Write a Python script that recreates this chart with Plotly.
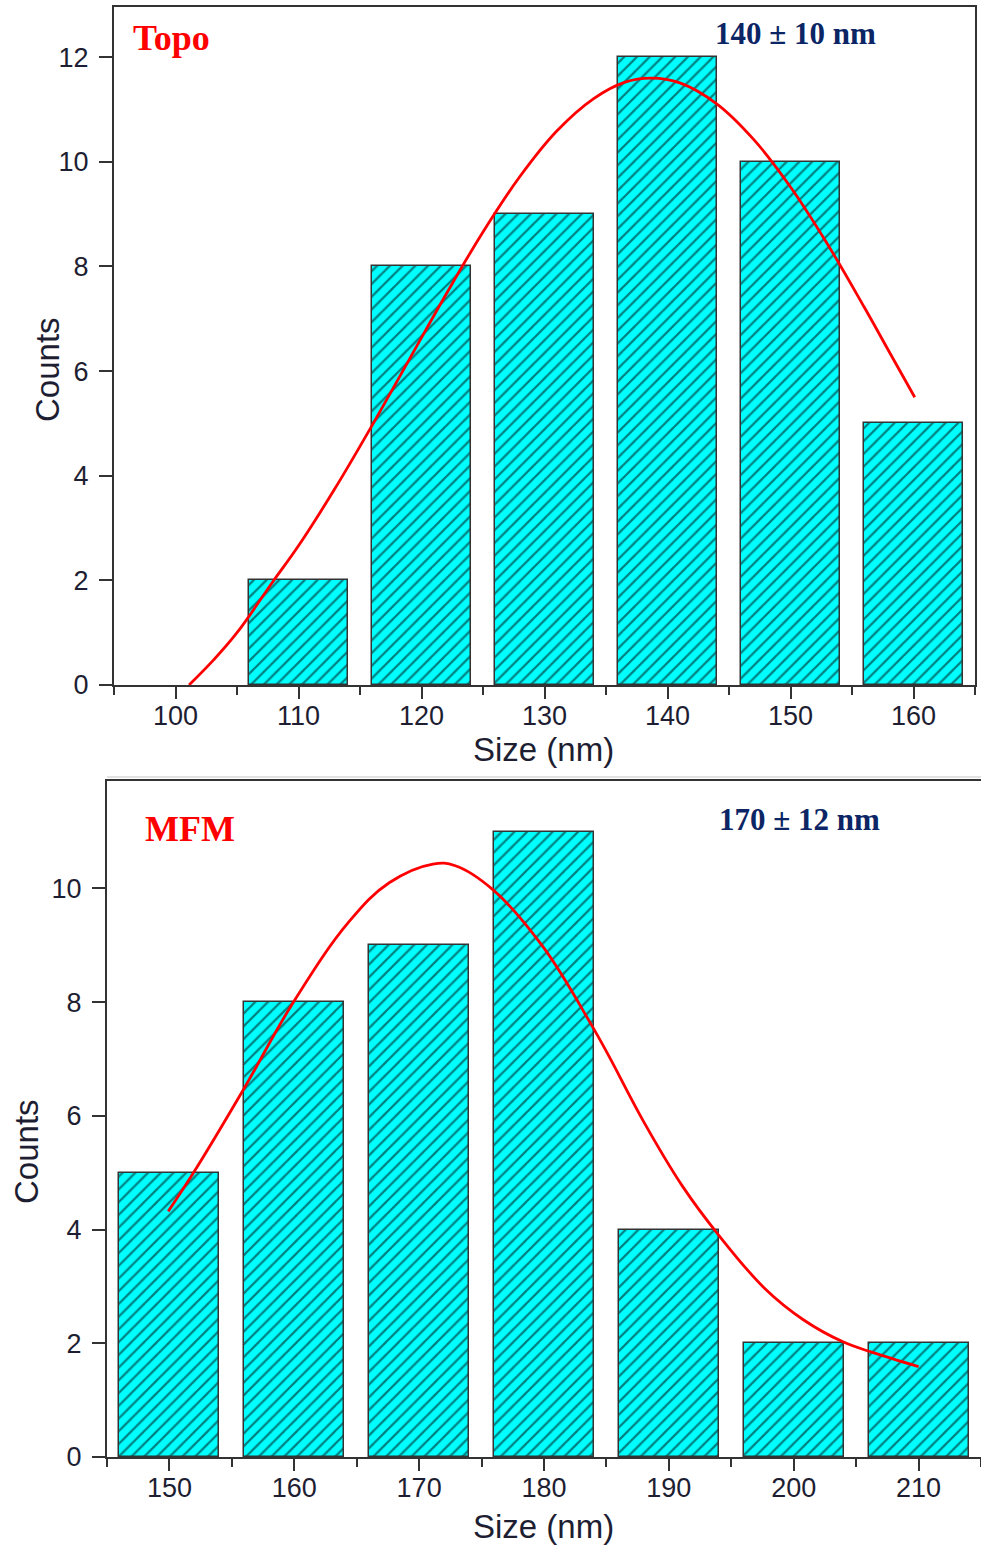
import plotly.graph_objects as go

W, H = 981, 1552

# ---- Topography size distribution ----
topo_size = [110, 120, 130, 140, 150, 160]
topo_count = [2, 8, 9, 12, 10, 5]
# Gaussian fit curve, read point by point
topo_fit_x = [101.1, 103.1, 105.0, 107.9, 110.0, 113.0, 116.0, 119.0, 122.0, 125.0, 128.0,
              131.0, 134.0, 136.5, 138.7, 141.0, 144.0, 147.0, 150.0, 153.0, 156.0, 158.0, 160.1]
topo_fit_y = [0.0, 0.48, 1.0, 1.97, 2.66, 3.77, 4.97, 6.22, 7.47, 8.66, 9.72,
              10.59, 11.21, 11.52, 11.6, 11.51, 11.11, 10.43, 9.52, 8.43, 7.22, 6.38, 5.5]

# ---- MFM size distribution ----
mfm_size = [150, 160, 170, 180, 190, 200, 210]
mfm_count = [5, 8, 9, 11, 4, 2, 2]
mfm_fit_x = [149.9, 151.9, 156.0, 159.9, 164.4, 167.6, 171.1, 172.9, 175.9, 179.9,
             183.8, 185.2, 187.9, 191.1, 194.0, 197.7, 200.8, 203.9, 206.3, 210.0]
mfm_fit_y = [4.32, 4.99, 6.49, 7.99, 9.42, 10.1, 10.43, 10.40, 9.98, 8.98,
             7.6, 7.05, 5.93, 4.76, 3.9, 2.96, 2.41, 2.03, 1.84, 1.59]

x_ticks_topo = [100, 110, 120, 130, 140, 150, 160]
x_ticks_mfm = [150, 160, 170, 180, 190, 200, 210]

# vertical stretch applied to pixel positions of the layout
V_SCALE = 1552 / 1537


def px(x):
    return x / W


def py(y):
    return 1 - (y * V_SCALE) / H


AX_COLOR = "#333333"
TXT_COLOR = "#1e1e32"
SANS = "Liberation Sans, Arial, sans-serif"
SERIF = "Liberation Serif, Times New Roman, serif"

bar_marker = dict(
    color="#00FFFF",
    line=dict(color="#333333", width=1.5),
    pattern=dict(shape="/", fgcolor="#000000", bgcolor="#00FFFF", size=9, solidity=0.25),
)

fig = go.Figure()

fig.add_trace(go.Bar(x=topo_size, y=topo_count, width=8, marker=bar_marker,
                     xaxis="x", yaxis="y"))
fig.add_trace(go.Scatter(x=topo_fit_x, y=topo_fit_y, mode="lines",
                         line=dict(color="#FF0000", width=2.8, shape="spline", smoothing=1.1),
                         xaxis="x", yaxis="y"))
fig.add_trace(go.Bar(x=mfm_size, y=mfm_count, width=8, marker=bar_marker,
                     xaxis="x2", yaxis="y2"))
fig.add_trace(go.Scatter(x=mfm_fit_x, y=mfm_fit_y, mode="lines",
                         line=dict(color="#FF0000", width=2.8, shape="spline", smoothing=1.1),
                         xaxis="x2", yaxis="y2"))


def xaxis_cfg(domain, rng, ticks, minor0, anchor):
    return dict(
        domain=domain, range=rng, anchor=anchor,
        tickmode="array", tickvals=ticks, ticktext=[str(t) for t in ticks],
        ticks="outside", ticklen=12, tickwidth=2, tickcolor=AX_COLOR,
        minor=dict(ticks="outside", tick0=minor0, dtick=10, ticklen=8,
                   tickwidth=2, tickcolor=AX_COLOR, showgrid=False),
        showline=True, linecolor=AX_COLOR, linewidth=2, mirror=True,
        showgrid=False, zeroline=False,
        tickfont=dict(family=SANS, size=27, color=TXT_COLOR),
        ticklabelstandoff=-6,
    )


def yaxis_cfg(domain, rng, ticks, mirror, anchor):
    return dict(
        domain=domain, range=rng, anchor=anchor,
        tickmode="array", tickvals=ticks, ticktext=[str(t) for t in ticks],
        ticks="outside", ticklen=13, tickwidth=2, tickcolor=AX_COLOR,
        showline=True, linecolor=AX_COLOR, linewidth=2, mirror=mirror,
        showgrid=False, zeroline=False,
        tickfont=dict(family=SANS, size=27, color=TXT_COLOR),
        ticklabelstandoff=5,
    )


fig.update_layout(
    xaxis=xaxis_cfg([px(114), px(975)], [95, 165], x_ticks_topo, 95, "y"),
    yaxis=yaxis_cfg([py(685), py(7)], [0, 12.96], [0, 2, 4, 6, 8, 10, 12], True, "x"),
    xaxis2=xaxis_cfg([px(107), 1.0], [145, 215], x_ticks_mfm, 145, "y2"),
    yaxis2=yaxis_cfg([py(1457), py(781)], [0, 11.89], [0, 2, 4, 6, 8, 10], False, "x2"),
)

annotations = [
    dict(text="Topo", x=px(131), y=py(38), xanchor="left", yanchor="middle",
         font=dict(family=SERIF, size=36, color="#FF0000", weight="bold")),
    dict(text="140 ± 10 nm", x=px(713), y=py(33), xanchor="left", yanchor="middle",
         font=dict(family=SERIF, size=31, color="#0b2565", weight="bold")),
    dict(text="MFM", x=px(143), y=py(829), xanchor="left", yanchor="middle",
         font=dict(family=SERIF, size=36, color="#FF0000", weight="bold")),
    dict(text="170 ± 12 nm", x=px(717), y=py(819), xanchor="left", yanchor="middle",
         font=dict(family=SERIF, size=31, color="#0b2565", weight="bold")),
    dict(text="Size (nm)", x=px(543), y=py(750), xanchor="center", yanchor="middle",
         font=dict(family=SANS, size=33, color=TXT_COLOR)),
    dict(text="Counts", x=px(47), y=py(370), xanchor="center", yanchor="middle",
         textangle=-90, font=dict(family=SANS, size=33, color=TXT_COLOR)),
    dict(text="Size (nm)", x=px(543), y=py(1526), xanchor="center", yanchor="middle",
         font=dict(family=SANS, size=33, color=TXT_COLOR)),
    dict(text="Counts", x=px(26), y=py(1152), xanchor="center", yanchor="middle",
         textangle=-90, font=dict(family=SANS, size=33, color=TXT_COLOR)),
]
for a in annotations:
    a.update(xref="paper", yref="paper", showarrow=False)

fig.update_layout(
    width=W, height=H,
    margin=dict(l=0, r=0, t=0, b=0),
    paper_bgcolor="white", plot_bgcolor="white",
    showlegend=False, bargap=0,
    annotations=annotations,
    shapes=[dict(type="line", xref="paper", yref="paper",
                 x0=px(107), x1=1.0, y0=py(777), y1=py(777),
                 line=dict(color="#e2e2e2", width=2))],
)

fig.write_html("out.html")
